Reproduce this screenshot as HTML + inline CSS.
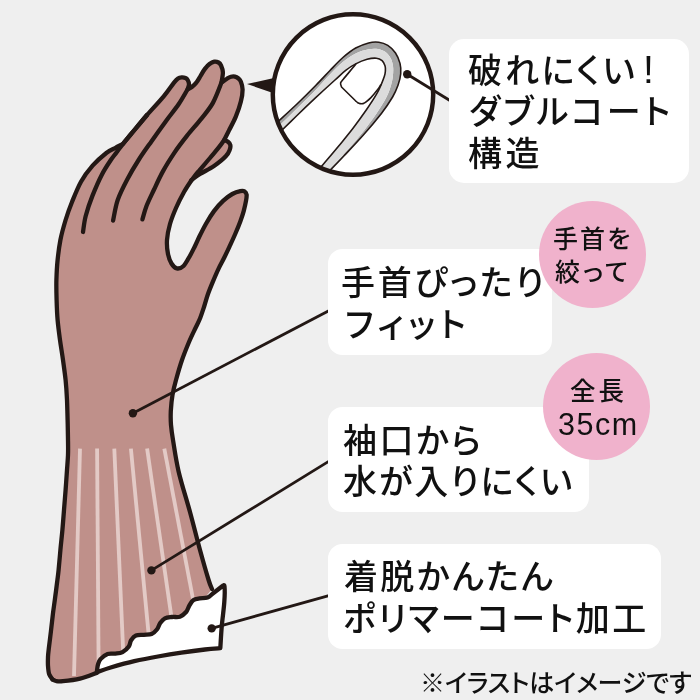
<!DOCTYPE html>
<html lang="ja">
<head>
<meta charset="utf-8">
<title>手袋の特長</title>
<style>
html,body{margin:0;padding:0;background:#efefef;}
body{width:700px;height:700px;overflow:hidden;position:relative;font-family:"Liberation Sans","Noto Sans CJK JP",sans-serif;color:#111;}
svg{position:absolute;left:0;top:0;display:block;}
.box{position:absolute;background:#fff;border-radius:15px;box-sizing:border-box;}
.t{position:absolute;margin:0;white-space:nowrap;color:#111;will-change:transform;}
.p{font-feature-settings:"palt" 1;}
.badge{position:absolute;background:#f0b2cc;border-radius:50%;text-align:center;}
</style>
</head>
<body>
<svg width="700" height="700" viewBox="0 0 700 700">
<defs>
<clipPath id="armclip"><path d="M52.6 679.5C52.0 678.6 50.0 676.6 49.2 674.3C48.4 672.0 48.2 668.7 48.0 665.8C47.8 662.9 47.9 659.9 48.0 657.0C48.1 654.1 48.3 652.9 48.8 648.6C49.3 644.4 50.2 637.3 50.9 631.5C51.6 625.7 52.2 619.8 52.9 614.0C53.6 608.2 54.5 602.7 55.2 597.0C56.0 591.3 56.8 584.5 57.4 580.0C58.0 575.5 58.1 575.0 58.6 570.0C59.1 565.0 59.8 556.7 60.4 550.0C61.0 543.3 61.8 536.7 62.4 530.0C63.0 523.3 63.5 516.7 64.0 510.0C64.5 503.3 65.1 496.7 65.6 490.0C66.1 483.3 66.6 475.8 67.0 470.0C67.4 464.2 67.8 460.0 68.0 455.0C68.2 450.0 68.1 445.8 68.0 440.0C67.9 434.2 67.8 426.7 67.6 420.0C67.4 413.3 67.3 406.7 67.0 400.0C66.7 393.3 66.3 386.7 65.6 380.0C64.9 373.3 63.9 366.7 63.0 360.0C62.1 353.3 60.9 346.7 60.0 340.0C59.1 333.3 58.2 326.7 57.6 320.0C57.0 313.3 56.8 306.7 56.6 300.0C56.4 293.3 56.2 286.7 56.4 280.0C56.6 273.3 56.9 266.7 57.6 260.0C58.3 253.3 59.1 246.7 60.4 240.0C61.7 233.3 63.7 226.3 65.6 220.0C67.5 213.7 69.4 208.4 72.0 202.0C74.6 195.6 77.6 187.8 81.0 181.7C84.4 175.6 88.4 170.5 92.6 165.7C96.8 160.9 102.5 156.0 106.3 153.0C110.1 150.0 112.7 149.3 115.5 147.8C118.3 146.3 121.8 144.5 123.0 143.8C124.4 142.1 127.4 138.5 131.4 133.7C135.4 128.9 141.6 121.2 147.0 115.0C152.4 108.8 159.2 101.7 163.7 96.3C168.2 90.9 171.6 85.6 174.0 82.6C176.4 79.6 176.7 79.4 178.0 78.5C179.3 77.6 180.4 77.5 181.7 77.4C182.9 77.3 184.5 77.6 185.5 78.0C186.5 78.4 187.1 79.0 187.7 80.0C188.3 81.0 189.0 82.7 189.0 84.3C189.0 85.9 187.8 88.6 187.5 89.5C188.2 89.1 190.3 88.2 191.8 87.0C193.3 85.8 194.9 84.4 196.3 82.6C197.8 80.8 199.1 78.3 200.5 76.0C201.9 73.7 203.4 70.9 204.9 68.9C206.4 66.9 207.9 65.2 209.5 64.0C211.1 62.8 212.8 62.0 214.3 61.7C215.8 61.5 217.4 61.9 218.5 62.5C219.6 63.1 220.3 63.8 221.0 65.4C221.7 67.0 222.8 69.5 222.9 72.3C223.0 75.1 221.7 80.8 221.5 82.5C222.4 81.9 225.4 79.7 227.0 78.7C228.6 77.8 229.7 77.2 231.0 76.8C232.3 76.4 233.7 76.3 234.9 76.6C236.2 76.9 237.5 77.7 238.5 78.5C239.5 79.3 240.2 79.9 240.9 81.7C241.6 83.5 242.6 86.1 242.6 89.4C242.6 92.7 242.1 96.8 240.9 101.4C239.8 106.0 237.7 112.0 235.7 116.9C233.7 121.8 230.8 126.8 228.9 130.6C227.0 134.4 225.0 138.4 224.2 140.0C224.8 140.3 227.0 141.0 228.0 141.8C229.0 142.6 230.0 143.7 230.3 145.0C230.6 146.3 230.5 147.7 229.8 149.5C229.1 151.3 228.6 153.2 226.0 156.0C223.4 158.8 218.3 163.0 214.0 166.0C209.7 169.0 203.7 171.7 200.0 174.0C196.3 176.3 193.0 179.0 191.6 180.0C190.3 182.0 186.6 187.3 184.0 192.0C181.4 196.7 178.3 202.7 176.0 208.0C173.7 213.3 171.5 218.7 170.0 224.0C168.5 229.3 167.3 235.0 167.0 240.0C166.7 245.0 167.2 250.1 168.0 254.0C168.8 257.9 170.0 261.1 171.5 263.5C173.0 265.9 174.8 268.0 176.8 268.4C178.8 268.8 181.3 268.1 183.5 266.0C185.7 263.9 188.1 259.0 190.0 255.7C191.9 252.4 193.4 249.2 195.0 246.0C196.6 242.8 197.7 240.0 199.5 236.3C201.3 232.6 203.6 227.9 206.0 223.7C208.4 219.5 211.2 214.9 214.0 211.1C216.8 207.3 220.0 203.8 223.1 200.9C226.2 198.1 229.4 195.6 232.3 194.0C235.2 192.4 238.3 191.5 240.3 191.1C242.3 190.7 243.4 190.7 244.5 191.3C245.6 191.9 246.3 193.0 246.6 194.6C246.8 196.2 246.5 198.2 246.0 200.9C245.5 203.7 244.6 207.7 243.7 211.1C242.8 214.5 241.7 217.6 240.3 221.4C238.9 225.2 237.0 229.8 235.2 234.0C233.4 238.2 231.3 242.7 229.5 246.6C227.7 250.5 226.1 253.8 224.3 257.5C222.5 261.2 220.5 264.6 218.6 268.6C216.7 272.6 214.8 277.1 213.0 281.4C211.2 285.7 209.4 290.0 207.9 294.3C206.4 298.6 205.3 303.1 204.0 307.0C202.7 310.9 201.6 314.5 200.2 318.0C198.8 321.5 197.4 324.0 195.5 328.0C193.6 332.0 191.2 336.7 189.0 342.0C186.8 347.3 184.2 353.7 182.0 360.0C179.8 366.3 177.6 374.2 176.0 380.0C174.4 385.8 173.4 389.8 172.5 395.0C171.6 400.2 171.1 406.0 170.8 411.0C170.6 416.0 170.6 420.2 171.0 425.0C171.4 429.8 171.7 432.3 173.0 440.0C174.3 447.7 175.8 459.4 178.6 471.4C181.4 483.4 186.4 498.9 190.0 512.0C193.6 525.1 196.9 538.7 200.0 550.0C203.1 561.3 206.6 573.5 208.6 580.0C210.6 586.5 211.4 587.5 212.0 589.0L157.9 656.5C154.0 657.3 142.2 659.4 134.3 661.2C126.4 663.0 116.9 665.6 110.7 667.5C104.5 669.4 102.3 670.8 97.2 672.6C92.1 674.5 85.7 677.2 80.0 678.6C74.3 680.0 66.9 680.8 62.9 681.2C58.9 681.6 57.7 681.3 56.0 681.0C54.3 680.7 53.2 679.8 52.6 679.5Z"/></clipPath>
<clipPath id="lens"><circle cx="353" cy="94.5" r="80.2"/></clipPath>
</defs>
<!-- glove -->
<path d="M52.6 679.5C52.0 678.6 50.0 676.6 49.2 674.3C48.4 672.0 48.2 668.7 48.0 665.8C47.8 662.9 47.9 659.9 48.0 657.0C48.1 654.1 48.3 652.9 48.8 648.6C49.3 644.4 50.2 637.3 50.9 631.5C51.6 625.7 52.2 619.8 52.9 614.0C53.6 608.2 54.5 602.7 55.2 597.0C56.0 591.3 56.8 584.5 57.4 580.0C58.0 575.5 58.1 575.0 58.6 570.0C59.1 565.0 59.8 556.7 60.4 550.0C61.0 543.3 61.8 536.7 62.4 530.0C63.0 523.3 63.5 516.7 64.0 510.0C64.5 503.3 65.1 496.7 65.6 490.0C66.1 483.3 66.6 475.8 67.0 470.0C67.4 464.2 67.8 460.0 68.0 455.0C68.2 450.0 68.1 445.8 68.0 440.0C67.9 434.2 67.8 426.7 67.6 420.0C67.4 413.3 67.3 406.7 67.0 400.0C66.7 393.3 66.3 386.7 65.6 380.0C64.9 373.3 63.9 366.7 63.0 360.0C62.1 353.3 60.9 346.7 60.0 340.0C59.1 333.3 58.2 326.7 57.6 320.0C57.0 313.3 56.8 306.7 56.6 300.0C56.4 293.3 56.2 286.7 56.4 280.0C56.6 273.3 56.9 266.7 57.6 260.0C58.3 253.3 59.1 246.7 60.4 240.0C61.7 233.3 63.7 226.3 65.6 220.0C67.5 213.7 69.4 208.4 72.0 202.0C74.6 195.6 77.6 187.8 81.0 181.7C84.4 175.6 88.4 170.5 92.6 165.7C96.8 160.9 102.5 156.0 106.3 153.0C110.1 150.0 112.7 149.3 115.5 147.8C118.3 146.3 121.8 144.5 123.0 143.8C124.4 142.1 127.4 138.5 131.4 133.7C135.4 128.9 141.6 121.2 147.0 115.0C152.4 108.8 159.2 101.7 163.7 96.3C168.2 90.9 171.6 85.6 174.0 82.6C176.4 79.6 176.7 79.4 178.0 78.5C179.3 77.6 180.4 77.5 181.7 77.4C182.9 77.3 184.5 77.6 185.5 78.0C186.5 78.4 187.1 79.0 187.7 80.0C188.3 81.0 189.0 82.7 189.0 84.3C189.0 85.9 187.8 88.6 187.5 89.5C188.2 89.1 190.3 88.2 191.8 87.0C193.3 85.8 194.9 84.4 196.3 82.6C197.8 80.8 199.1 78.3 200.5 76.0C201.9 73.7 203.4 70.9 204.9 68.9C206.4 66.9 207.9 65.2 209.5 64.0C211.1 62.8 212.8 62.0 214.3 61.7C215.8 61.5 217.4 61.9 218.5 62.5C219.6 63.1 220.3 63.8 221.0 65.4C221.7 67.0 222.8 69.5 222.9 72.3C223.0 75.1 221.7 80.8 221.5 82.5C222.4 81.9 225.4 79.7 227.0 78.7C228.6 77.8 229.7 77.2 231.0 76.8C232.3 76.4 233.7 76.3 234.9 76.6C236.2 76.9 237.5 77.7 238.5 78.5C239.5 79.3 240.2 79.9 240.9 81.7C241.6 83.5 242.6 86.1 242.6 89.4C242.6 92.7 242.1 96.8 240.9 101.4C239.8 106.0 237.7 112.0 235.7 116.9C233.7 121.8 230.8 126.8 228.9 130.6C227.0 134.4 225.0 138.4 224.2 140.0C224.8 140.3 227.0 141.0 228.0 141.8C229.0 142.6 230.0 143.7 230.3 145.0C230.6 146.3 230.5 147.7 229.8 149.5C229.1 151.3 228.6 153.2 226.0 156.0C223.4 158.8 218.3 163.0 214.0 166.0C209.7 169.0 203.7 171.7 200.0 174.0C196.3 176.3 193.0 179.0 191.6 180.0C190.3 182.0 186.6 187.3 184.0 192.0C181.4 196.7 178.3 202.7 176.0 208.0C173.7 213.3 171.5 218.7 170.0 224.0C168.5 229.3 167.3 235.0 167.0 240.0C166.7 245.0 167.2 250.1 168.0 254.0C168.8 257.9 170.0 261.1 171.5 263.5C173.0 265.9 174.8 268.0 176.8 268.4C178.8 268.8 181.3 268.1 183.5 266.0C185.7 263.9 188.1 259.0 190.0 255.7C191.9 252.4 193.4 249.2 195.0 246.0C196.6 242.8 197.7 240.0 199.5 236.3C201.3 232.6 203.6 227.9 206.0 223.7C208.4 219.5 211.2 214.9 214.0 211.1C216.8 207.3 220.0 203.8 223.1 200.9C226.2 198.1 229.4 195.6 232.3 194.0C235.2 192.4 238.3 191.5 240.3 191.1C242.3 190.7 243.4 190.7 244.5 191.3C245.6 191.9 246.3 193.0 246.6 194.6C246.8 196.2 246.5 198.2 246.0 200.9C245.5 203.7 244.6 207.7 243.7 211.1C242.8 214.5 241.7 217.6 240.3 221.4C238.9 225.2 237.0 229.8 235.2 234.0C233.4 238.2 231.3 242.7 229.5 246.6C227.7 250.5 226.1 253.8 224.3 257.5C222.5 261.2 220.5 264.6 218.6 268.6C216.7 272.6 214.8 277.1 213.0 281.4C211.2 285.7 209.4 290.0 207.9 294.3C206.4 298.6 205.3 303.1 204.0 307.0C202.7 310.9 201.6 314.5 200.2 318.0C198.8 321.5 197.4 324.0 195.5 328.0C193.6 332.0 191.2 336.7 189.0 342.0C186.8 347.3 184.2 353.7 182.0 360.0C179.8 366.3 177.6 374.2 176.0 380.0C174.4 385.8 173.4 389.8 172.5 395.0C171.6 400.2 171.1 406.0 170.8 411.0C170.6 416.0 170.6 420.2 171.0 425.0C171.4 429.8 171.7 432.3 173.0 440.0C174.3 447.7 175.8 459.4 178.6 471.4C181.4 483.4 186.4 498.9 190.0 512.0C193.6 525.1 196.9 538.7 200.0 550.0C203.1 561.3 206.6 573.5 208.6 580.0C210.6 586.5 211.4 587.5 212.0 589.0L157.9 656.5C154.0 657.3 142.2 659.4 134.3 661.2C126.4 663.0 116.9 665.6 110.7 667.5C104.5 669.4 102.3 670.8 97.2 672.6C92.1 674.5 85.7 677.2 80.0 678.6C74.3 680.0 66.9 680.8 62.9 681.2C58.9 681.6 57.7 681.3 56.0 681.0C54.3 680.7 53.2 679.8 52.6 679.5Z" fill="#bf908a"/>
<g clip-path="url(#armclip)" stroke="#e3cac6" stroke-width="3.8" fill="none"><line x1="80.0" y1="448.6" x2="74.0" y2="676.0"/><line x1="97.1" y1="448.6" x2="98.6" y2="668.0"/><line x1="114.3" y1="448.6" x2="123.2" y2="652.0"/><line x1="130.9" y1="448.6" x2="148.8" y2="636.0"/><line x1="147.1" y1="448.6" x2="171.6" y2="618.0"/><line x1="164.3" y1="448.6" x2="193.2" y2="600.0"/></g>
<path d="M97.0 670.5C97.2 669.5 97.4 666.4 98.0 664.5C98.6 662.6 98.9 660.9 100.5 659.1C102.1 657.4 105.1 654.9 107.6 654.0C110.1 653.1 112.9 653.9 115.4 653.6C117.9 653.3 120.3 653.3 122.5 652.1C124.7 650.9 127.4 648.6 128.8 646.6C130.2 644.6 129.9 642.1 131.1 640.3C132.3 638.5 133.8 636.5 135.9 635.6C138.0 634.7 141.1 635.1 143.7 634.8C146.3 634.5 149.4 634.9 151.6 634.0C153.8 633.1 155.7 631.1 157.1 629.3C158.5 627.5 158.9 624.8 160.2 623.0C161.5 621.2 162.9 619.3 164.9 618.3C166.9 617.3 169.5 617.3 172.0 617.0C174.5 616.7 177.6 617.5 179.9 616.7C182.2 615.9 184.5 613.8 186.1 612.0C187.7 610.2 188.1 607.7 189.3 605.7C190.5 603.7 191.5 601.4 193.2 600.2C194.9 599.0 197.1 598.8 199.5 598.4C201.9 598.0 205.2 598.5 207.5 597.6C209.8 596.7 211.0 594.9 213.5 593.0C216.0 591.1 221.0 587.2 222.5 586.0C222.8 586.1 224.2 583.8 224.5 586.5C224.8 589.2 224.8 595.5 224.3 602.0C223.9 608.5 222.5 618.0 221.8 625.7C221.1 633.4 220.6 644.5 220.3 648.2C217.8 648.4 211.5 648.8 205.0 649.5C198.5 650.2 189.2 651.4 181.4 652.6C173.6 653.8 165.8 655.1 157.9 656.5C150.1 657.9 142.2 659.4 134.3 661.2C126.4 663.0 116.9 665.7 110.7 667.5C104.5 669.3 99.5 671.4 97.2 672.2Z" fill="#fff" stroke="#231815" stroke-width="4.3" stroke-linejoin="round"/>
<g fill="none" stroke="#231815" stroke-width="4.3" stroke-linecap="round" stroke-linejoin="round">
<path d="M52.6 679.5C52.0 678.6 50.0 676.6 49.2 674.3C48.4 672.0 48.2 668.7 48.0 665.8C47.8 662.9 47.9 659.9 48.0 657.0C48.1 654.1 48.3 652.9 48.8 648.6C49.3 644.4 50.2 637.3 50.9 631.5C51.6 625.7 52.2 619.8 52.9 614.0C53.6 608.2 54.5 602.7 55.2 597.0C56.0 591.3 56.8 584.5 57.4 580.0C58.0 575.5 58.1 575.0 58.6 570.0C59.1 565.0 59.8 556.7 60.4 550.0C61.0 543.3 61.8 536.7 62.4 530.0C63.0 523.3 63.5 516.7 64.0 510.0C64.5 503.3 65.1 496.7 65.6 490.0C66.1 483.3 66.6 475.8 67.0 470.0C67.4 464.2 67.8 460.0 68.0 455.0C68.2 450.0 68.1 445.8 68.0 440.0C67.9 434.2 67.8 426.7 67.6 420.0C67.4 413.3 67.3 406.7 67.0 400.0C66.7 393.3 66.3 386.7 65.6 380.0C64.9 373.3 63.9 366.7 63.0 360.0C62.1 353.3 60.9 346.7 60.0 340.0C59.1 333.3 58.2 326.7 57.6 320.0C57.0 313.3 56.8 306.7 56.6 300.0C56.4 293.3 56.2 286.7 56.4 280.0C56.6 273.3 56.9 266.7 57.6 260.0C58.3 253.3 59.1 246.7 60.4 240.0C61.7 233.3 63.7 226.3 65.6 220.0C67.5 213.7 69.4 208.4 72.0 202.0C74.6 195.6 77.6 187.8 81.0 181.7C84.4 175.6 88.4 170.5 92.6 165.7C96.8 160.9 102.5 156.0 106.3 153.0C110.1 150.0 112.7 149.3 115.5 147.8C118.3 146.3 121.8 144.5 123.0 143.8C124.4 142.1 127.4 138.5 131.4 133.7C135.4 128.9 141.6 121.2 147.0 115.0C152.4 108.8 159.2 101.7 163.7 96.3C168.2 90.9 171.6 85.6 174.0 82.6C176.4 79.6 176.7 79.4 178.0 78.5C179.3 77.6 180.4 77.5 181.7 77.4C182.9 77.3 184.5 77.6 185.5 78.0C186.5 78.4 187.1 79.0 187.7 80.0C188.3 81.0 189.0 82.7 189.0 84.3C189.0 85.9 187.8 88.6 187.5 89.5C188.2 89.1 190.3 88.2 191.8 87.0C193.3 85.8 194.9 84.4 196.3 82.6C197.8 80.8 199.1 78.3 200.5 76.0C201.9 73.7 203.4 70.9 204.9 68.9C206.4 66.9 207.9 65.2 209.5 64.0C211.1 62.8 212.8 62.0 214.3 61.7C215.8 61.5 217.4 61.9 218.5 62.5C219.6 63.1 220.3 63.8 221.0 65.4C221.7 67.0 222.8 69.5 222.9 72.3C223.0 75.1 221.7 80.8 221.5 82.5C222.4 81.9 225.4 79.7 227.0 78.7C228.6 77.8 229.7 77.2 231.0 76.8C232.3 76.4 233.7 76.3 234.9 76.6C236.2 76.9 237.5 77.7 238.5 78.5C239.5 79.3 240.2 79.9 240.9 81.7C241.6 83.5 242.6 86.1 242.6 89.4C242.6 92.7 242.1 96.8 240.9 101.4C239.8 106.0 237.7 112.0 235.7 116.9C233.7 121.8 230.8 126.8 228.9 130.6C227.0 134.4 225.0 138.4 224.2 140.0C224.8 140.3 227.0 141.0 228.0 141.8C229.0 142.6 230.0 143.7 230.3 145.0C230.6 146.3 230.5 147.7 229.8 149.5C229.1 151.3 228.6 153.2 226.0 156.0C223.4 158.8 218.3 163.0 214.0 166.0C209.7 169.0 203.7 171.7 200.0 174.0C196.3 176.3 193.0 179.0 191.6 180.0C190.3 182.0 186.6 187.3 184.0 192.0C181.4 196.7 178.3 202.7 176.0 208.0C173.7 213.3 171.5 218.7 170.0 224.0C168.5 229.3 167.3 235.0 167.0 240.0C166.7 245.0 167.2 250.1 168.0 254.0C168.8 257.9 170.0 261.1 171.5 263.5C173.0 265.9 174.8 268.0 176.8 268.4C178.8 268.8 181.3 268.1 183.5 266.0C185.7 263.9 188.1 259.0 190.0 255.7C191.9 252.4 193.4 249.2 195.0 246.0C196.6 242.8 197.7 240.0 199.5 236.3C201.3 232.6 203.6 227.9 206.0 223.7C208.4 219.5 211.2 214.9 214.0 211.1C216.8 207.3 220.0 203.8 223.1 200.9C226.2 198.1 229.4 195.6 232.3 194.0C235.2 192.4 238.3 191.5 240.3 191.1C242.3 190.7 243.4 190.7 244.5 191.3C245.6 191.9 246.3 193.0 246.6 194.6C246.8 196.2 246.5 198.2 246.0 200.9C245.5 203.7 244.6 207.7 243.7 211.1C242.8 214.5 241.7 217.6 240.3 221.4C238.9 225.2 237.0 229.8 235.2 234.0C233.4 238.2 231.3 242.7 229.5 246.6C227.7 250.5 226.1 253.8 224.3 257.5C222.5 261.2 220.5 264.6 218.6 268.6C216.7 272.6 214.8 277.1 213.0 281.4C211.2 285.7 209.4 290.0 207.9 294.3C206.4 298.6 205.3 303.1 204.0 307.0C202.7 310.9 201.6 314.5 200.2 318.0C198.8 321.5 197.4 324.0 195.5 328.0C193.6 332.0 191.2 336.7 189.0 342.0C186.8 347.3 184.2 353.7 182.0 360.0C179.8 366.3 177.6 374.2 176.0 380.0C174.4 385.8 173.4 389.8 172.5 395.0C171.6 400.2 171.1 406.0 170.8 411.0C170.6 416.0 170.6 420.2 171.0 425.0C171.4 429.8 171.7 432.3 173.0 440.0C174.3 447.7 175.8 459.4 178.6 471.4C181.4 483.4 186.4 498.9 190.0 512.0C193.6 525.1 196.9 538.7 200.0 550.0C203.1 561.3 206.6 573.5 208.6 580.0C210.6 586.5 211.4 587.5 212.0 589.0"/>
<path d="M52.6 679.5C53.2 679.8 54.3 680.7 56.0 681.0C57.7 681.3 58.9 681.6 62.9 681.2C66.9 680.8 74.3 680.0 80.0 678.6C85.7 677.2 94.3 673.6 97.2 672.6"/>
<path d="M147.0 115.0C144.4 118.1 135.4 128.9 131.4 133.7C127.4 138.5 125.5 140.7 123.0 143.8C120.5 146.9 118.6 149.7 116.5 152.5C114.4 155.3 113.0 156.8 110.5 160.5C108.0 164.2 104.7 169.1 101.7 174.9C98.7 180.7 95.3 188.6 92.6 195.4C89.9 202.2 87.3 209.9 85.7 216.0C84.1 222.1 83.5 229.3 83.0 232.0"/>
<path d="M187.5 89.5C186.0 92.0 182.2 99.0 178.6 104.3C175.0 109.6 170.2 115.2 165.7 121.4C161.2 127.6 155.9 135.0 151.4 141.4C146.9 147.8 142.6 153.7 138.6 160.0C134.6 166.3 131.0 172.3 127.5 179.0C124.0 185.7 120.1 193.1 117.7 200.0C115.3 206.9 113.9 217.2 113.1 220.6"/>
<path d="M221.5 82.5C220.1 85.9 216.2 96.9 212.9 102.9C209.6 108.9 205.7 113.1 201.4 118.6C197.1 124.1 191.6 130.0 187.1 135.7C182.6 141.4 178.3 146.9 174.3 152.9C170.3 158.9 166.2 165.4 162.9 171.4C159.6 177.4 157.0 183.2 154.3 189.0C151.6 194.8 148.5 200.9 146.5 206.0C144.5 211.1 143.1 217.2 142.4 219.4"/>
<path d="M224.2 140.0C223.3 141.3 221.0 144.7 218.6 147.7C216.2 150.7 213.4 153.9 210.0 158.0C206.6 162.1 201.1 168.3 198.0 172.0C194.9 175.7 192.7 178.7 191.6 180.0"/>
</g>
<!-- magnifier -->
<path d="M247 84L274 78L273 93Z" fill="#231815"/>
<circle cx="353" cy="94.5" r="80.2" fill="#fff"/>
<g clip-path="url(#lens)">
<path d="M276.0 123.5C279.5 120.2 290.4 110.3 297.0 104.0C303.6 97.7 310.2 91.1 315.7 85.5C321.2 79.9 325.5 75.2 330.0 70.5C334.5 65.8 338.6 61.2 342.9 57.5C347.2 53.8 351.4 50.4 355.7 48.0C360.0 45.6 364.8 43.9 368.6 42.9C372.5 41.9 375.6 41.8 378.8 42.2C382.0 42.6 385.0 43.6 387.8 45.4C390.6 47.2 393.5 50.0 395.5 53.0C397.5 56.0 399.1 59.9 400.0 63.4C400.9 66.8 401.0 70.0 400.7 73.7C400.4 77.4 399.4 81.4 398.0 85.3C396.6 89.2 395.4 92.3 392.6 97.0C389.8 101.7 386.3 107.0 381.4 113.4C376.4 119.8 369.1 128.5 362.9 135.5C356.7 142.5 349.8 149.7 344.3 155.5C338.8 161.3 332.4 168.0 330.0 170.5L329.0 169.5C331.3 167.1 337.8 160.7 343.0 155.0C348.2 149.3 354.4 142.4 360.0 135.5C365.6 128.6 372.1 119.8 376.5 113.4C380.9 107.0 384.1 101.7 386.5 97.0C388.9 92.3 389.9 89.0 391.0 85.3C392.1 81.6 392.7 78.2 393.0 75.0C393.3 71.8 393.4 68.8 393.0 66.0C392.6 63.2 391.8 60.3 390.5 58.0C389.2 55.7 387.6 53.5 385.5 52.0C383.4 50.5 380.8 49.5 378.0 49.0C375.2 48.5 372.3 48.5 368.6 49.3C364.9 50.0 360.0 51.4 355.7 53.5C351.4 55.6 347.2 58.5 342.9 62.0C338.6 65.5 334.5 69.8 330.0 74.5C325.5 79.2 321.2 84.3 315.7 90.0C310.2 95.7 303.4 102.2 297.0 108.5C290.6 114.8 280.8 124.3 277.5 127.5Z" fill="#a3a3a3"/>
<path d="M277.5 127.5C280.8 124.3 290.6 114.8 297.0 108.5C303.4 102.2 310.2 95.7 315.7 90.0C321.2 84.3 325.5 79.2 330.0 74.5C334.5 69.8 338.6 65.5 342.9 62.0C347.2 58.5 351.4 55.6 355.7 53.5C360.0 51.4 364.9 50.0 368.6 49.3C372.3 48.5 375.2 48.5 378.0 49.0C380.8 49.5 383.4 50.5 385.5 52.0C387.6 53.5 389.2 55.7 390.5 58.0C391.8 60.3 392.6 63.2 393.0 66.0C393.4 68.8 393.3 71.8 393.0 75.0C392.7 78.2 392.1 81.6 391.0 85.3C389.9 89.0 388.9 92.3 386.5 97.0C384.1 101.7 380.9 107.0 376.5 113.4C372.1 119.8 365.6 128.6 360.0 135.5C354.4 142.4 348.2 149.3 343.0 155.0C337.8 160.7 331.3 167.1 329.0 169.5L321.0 167.0C323.9 163.5 333.3 152.6 338.7 146.0C344.1 139.4 349.0 133.6 353.6 127.5C358.2 121.4 362.7 115.1 366.6 109.5C370.5 103.9 374.5 97.7 376.8 93.7C379.1 89.7 379.4 88.6 380.7 85.7C381.9 82.8 383.5 78.9 384.3 76.4C385.1 74.0 385.3 72.8 385.4 71.0C385.5 69.2 385.6 67.4 385.0 65.7C384.4 64.0 383.5 62.0 382.1 60.7C380.7 59.5 378.9 58.4 376.4 58.2C373.9 58.0 370.6 58.3 367.1 59.3C363.7 60.2 359.3 62.0 355.7 63.9C352.1 65.8 349.1 67.7 345.7 70.4C342.2 73.1 340.0 75.5 335.0 80.0C330.0 84.5 322.0 91.8 315.7 97.7C309.4 103.6 303.1 109.6 297.0 115.5C290.9 121.4 282.0 130.1 279.0 133.0Z" fill="#dcdcdc"/>
<path d="M279.0 133.0C282.0 130.1 290.9 121.4 297.0 115.5C303.1 109.6 309.4 103.6 315.7 97.7C322.0 91.8 330.0 84.5 335.0 80.0C340.0 75.5 342.2 73.1 345.7 70.4C349.1 67.7 352.1 65.8 355.7 63.9C359.3 62.0 363.7 60.2 367.1 59.3C370.6 58.3 373.9 58.0 376.4 58.2C378.9 58.4 380.7 59.5 382.1 60.7C383.5 62.0 384.4 64.0 385.0 65.7C385.6 67.4 385.5 69.2 385.4 71.0C385.3 72.8 385.1 74.0 384.3 76.4C383.5 78.9 381.9 82.8 380.7 85.7C379.4 88.6 379.1 89.7 376.8 93.7C374.5 97.7 370.5 103.9 366.6 109.5C362.7 115.1 358.2 121.4 353.6 127.5C349.0 133.6 344.1 139.4 338.7 146.0C333.3 152.6 323.9 163.5 321.0 167.0Z" fill="#fff"/>
<g fill="none" stroke="#231815" stroke-width="1.6" stroke-linecap="round" stroke-linejoin="round">
<path d="M276.0 123.5C279.5 120.2 290.4 110.3 297.0 104.0C303.6 97.7 310.2 91.1 315.7 85.5C321.2 79.9 325.5 75.2 330.0 70.5C334.5 65.8 338.6 61.2 342.9 57.5C347.2 53.8 351.4 50.4 355.7 48.0C360.0 45.6 364.8 43.9 368.6 42.9C372.5 41.9 375.6 41.8 378.8 42.2C382.0 42.6 385.0 43.6 387.8 45.4C390.6 47.2 393.5 50.0 395.5 53.0C397.5 56.0 399.1 59.9 400.0 63.4C400.9 66.8 401.0 70.0 400.7 73.7C400.4 77.4 399.4 81.4 398.0 85.3C396.6 89.2 395.4 92.3 392.6 97.0C389.8 101.7 386.3 107.0 381.4 113.4C376.4 119.8 369.1 128.5 362.9 135.5C356.7 142.5 349.8 149.7 344.3 155.5C338.8 161.3 332.4 168.0 330.0 170.5"/>
<path d="M279.0 133.0C282.0 130.1 290.9 121.4 297.0 115.5C303.1 109.6 309.4 103.6 315.7 97.7C322.0 91.8 330.0 84.5 335.0 80.0C340.0 75.5 342.2 73.1 345.7 70.4C349.1 67.7 352.1 65.8 355.7 63.9C359.3 62.0 363.7 60.2 367.1 59.3C370.6 58.3 373.9 58.0 376.4 58.2C378.9 58.4 380.7 59.5 382.1 60.7C383.5 62.0 384.4 64.0 385.0 65.7C385.6 67.4 385.5 69.2 385.4 71.0C385.3 72.8 385.1 74.0 384.3 76.4C383.5 78.9 381.9 82.8 380.7 85.7C379.4 88.6 379.1 89.7 376.8 93.7C374.5 97.7 370.5 103.9 366.6 109.5C362.7 115.1 358.2 121.4 353.6 127.5C349.0 133.6 344.1 139.4 338.7 146.0C333.3 152.6 323.9 163.5 321.0 167.0"/>
<path d="M355.7 64.3C353.7 66.8 346.0 75.9 343.5 79.0C341.0 82.1 340.9 81.7 340.6 83.0C340.3 84.3 341.4 86.3 341.5 87.0L355.5 100.8C355.9 101.1 357.1 102.3 357.8 102.8C358.6 103.3 359.1 103.5 360.0 103.6C360.9 103.7 362.1 103.8 363.0 103.6C363.9 103.4 365.1 102.5 365.5 102.3C366.4 101.6 368.6 100.1 370.7 97.9C372.8 95.7 376.2 91.5 377.9 89.3C379.6 87.1 380.2 85.7 380.7 85.0"/>
</g>
</g>
<circle cx="353" cy="94.5" r="80.2" fill="none" stroke="#231815" stroke-width="4.5"/>
<!-- leader lines -->
<g stroke="#231815" stroke-width="2.8" fill="#231815">
<line x1="407.2" y1="74.2" x2="456" y2="104.3"/><circle cx="407.2" cy="74.2" r="4.2" stroke="none"/>
<line x1="132.9" y1="413.2" x2="336" y2="306.9"/><circle cx="132.9" cy="413.2" r="4.2" stroke="none"/>
<line x1="151.4" y1="570.4" x2="336" y2="456.9"/><circle cx="151.4" cy="570.4" r="4.2" stroke="none"/>
<line x1="211.7" y1="628.4" x2="336" y2="593.6"/><circle cx="211.7" cy="628.4" r="4.2" stroke="none"/>
</g>
</svg>
<div class="box" style="left:448.8px;top:39.2px;width:240.2px;height:143.6px;border-radius:15px"></div>
<div class="box" style="left:328px;top:249.2px;width:224.3px;height:106.1px;border-radius:14.5px"></div>
<div class="box" style="left:328px;top:406.7px;width:261.4px;height:105.3px;border-radius:14.5px"></div>
<div class="box" style="left:328.3px;top:543.6px;width:332.5px;height:105.5px;border-radius:14.5px"></div>
<div class="badge" style="left:538.6px;top:200.8px;width:107px;height:107px"></div>
<div class="badge" style="left:543.2px;top:352.9px;width:107px;height:107px"></div>
<p class="t p" style="left:467.9px;top:53.6px;font-size:34px;line-height:34px;font-weight:500;letter-spacing:2.8px">破れにくい</p>
<p class="t" style="left:642.5px;top:49.9px;font-size:39px;line-height:39px;font-weight:500;letter-spacing:0px">!</p>
<p class="t p" style="left:469.2px;top:95.4px;font-size:34px;line-height:34px;font-weight:500;letter-spacing:3.44px">ダブルコート</p>
<p class="t p" style="left:468.2px;top:136.7px;font-size:34px;line-height:34px;font-weight:500;letter-spacing:3.4px">構造</p>
<p class="t p" style="left:341.2px;top:266.0px;font-size:34px;line-height:34px;font-weight:500;letter-spacing:2.74px">手首ぴったり</p>
<p class="t p" style="left:344.8px;top:308.4px;font-size:34px;line-height:34px;font-weight:500;letter-spacing:4.6px">フィット</p>
<p class="t p" style="left:343.2px;top:423.5px;font-size:34px;line-height:34px;font-weight:500;letter-spacing:2.46px">袖口から</p>
<p class="t p" style="left:343.4px;top:465.0px;font-size:34px;line-height:34px;font-weight:500;letter-spacing:2.02px">水が入りにくい</p>
<p class="t p" style="left:343.6px;top:559.5px;font-size:34px;line-height:34px;font-weight:500;letter-spacing:2.36px">着脱かんたん</p>
<p class="t p" style="left:343.2px;top:601.6px;font-size:34px;line-height:34px;font-weight:500;letter-spacing:2.33px">ポリマーコート加工</p>
<p class="t p" style="left:553.4px;top:227.0px;font-size:25px;line-height:25px;font-weight:500;letter-spacing:2.1px">手首を</p>
<p class="t p" style="left:554.8px;top:259.7px;font-size:25px;line-height:25px;font-weight:500;letter-spacing:3.2px">絞って</p>
<p class="t p" style="left:570.4px;top:379.2px;font-size:25.5px;line-height:25.5px;font-weight:500;letter-spacing:3.0px">全長</p>
<p class="t" style="left:558.0px;top:408.9px;font-size:30.5px;line-height:30.5px;font-weight:400;letter-spacing:1.54px">35cm</p>
<p class="t p" style="left:420.0px;top:671.0px;font-size:25px;line-height:25px;font-weight:500;letter-spacing:-0.12px">※イラストはイメージです</p>
</body>
</html>
